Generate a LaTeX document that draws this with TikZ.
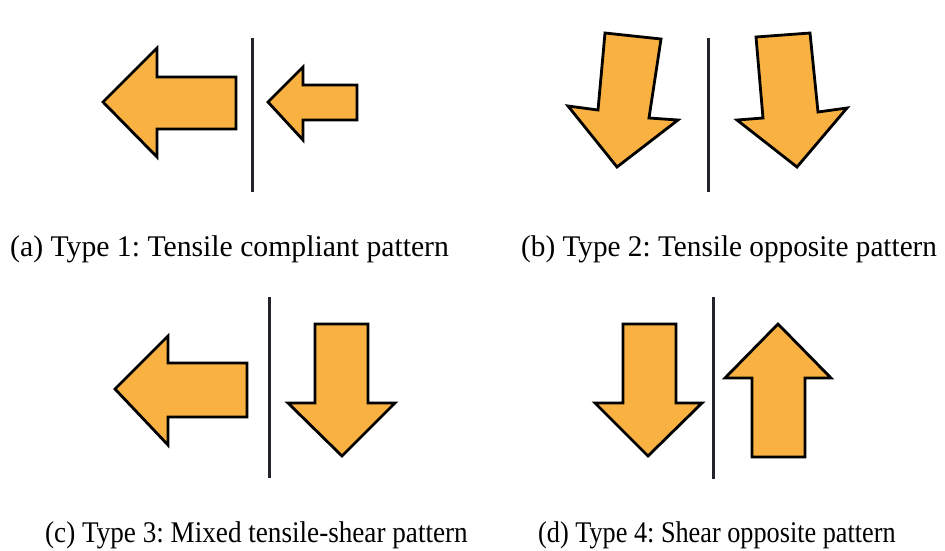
\documentclass[tikz,border=0pt]{standalone}
\usepackage{fontspec}
\setmainfont{Liberation Serif}
\frenchspacing
\definecolor{arrowfill}{RGB}{249,178,66}
\definecolor{divider}{RGB}{35,35,45}
\tikzset{
  force/.style={fill=arrowfill, draw=black, line width=2.8pt, line join=miter},
  wall/.style={draw=divider, line width=3pt},
  caption/.style={font=\fontsize{30}{34}\selectfont, anchor=base west, inner sep=0pt},
}
\begin{document}
\begin{tikzpicture}[x=1pt,y=-1pt]
\useasboundingbox (0,0) rectangle (945,550);
% (a)
\draw[wall] (252,38) -- (252,192);
\draw[force] (103,102) -- (157,48) -- (157,77) -- (236,77) -- (236,129) -- (157,129) -- (157,157) -- cycle;
\draw[force] (268,102) -- (303,67) -- (303,85) -- (357,85) -- (357,120) -- (303,120) -- (303,140) -- cycle;
% (b)
\draw[wall] (708,38) -- (708,192);
\draw[force] (605,33) -- (661,39) -- (649,118) -- (678,120) -- (617,167) -- (568,106) -- (598,110) -- cycle;
\draw[force] (756,37) -- (810,33) -- (818,112) -- (847,108) -- (797,167) -- (737,120) -- (763,118) -- cycle;
% (c)
\draw[wall] (269,297) -- (269,478);
\draw[force] (115,389) -- (168,336) -- (168,363) -- (247,363) -- (247,417) -- (168,417) -- (168,445) -- cycle;
\draw[force] (315,324) -- (368,324) -- (368,403) -- (395,403) -- (342,456) -- (288,403) -- (315,403) -- cycle;
% (d)
\draw[wall] (713,297) -- (713,479);
\draw[force] (623,324) -- (676,324) -- (676,403) -- (702,403) -- (648,456) -- (595,403) -- (623,403) -- cycle;
\draw[force] (778,324) -- (831,378) -- (805,378) -- (805,457) -- (752,457) -- (752,378) -- (725,378) -- cycle;
% captions
\node[caption, xscale=0.99] (ca) at (10,256) {(a) Type 1: Tensile compliant pattern};
\node[caption, xscale=0.975] (cb) at (521,256) {(b) Type 2: Tensile opposite pattern};
\node[caption, xscale=0.905] (cc) at (45,542) {(c) Type 3: Mixed tensile-shear pattern};
\node[caption, xscale=0.875] (cd) at (538,542) {(d) Type 4: Shear opposite pattern};
\end{tikzpicture}
\end{document}
